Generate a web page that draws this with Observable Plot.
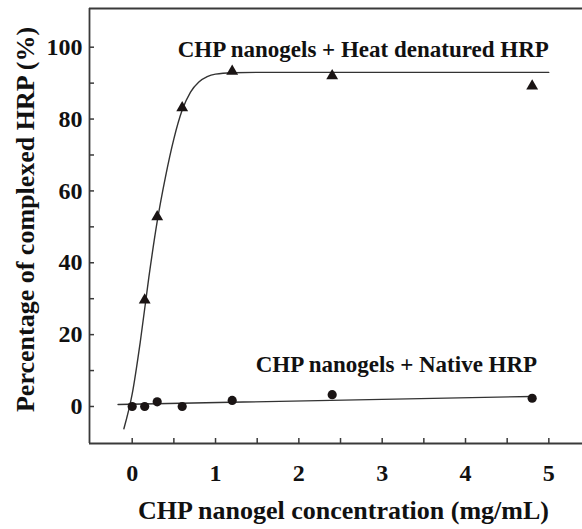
<!DOCTYPE html>
<html>
<head>
<meta charset="utf-8">
<script src="https://cdn.jsdelivr.net/npm/d3@7"></script>
<script src="https://cdn.jsdelivr.net/npm/@observablehq/plot@0.6"></script>
<style>
  html, body { margin: 0; padding: 0; background: #fff; }
  #chart svg { display: block; }
</style>
</head>
<body>
<div id="chart"></div>
<script>
// Heat denatured HRP (triangles)
const heatConc = [0.15, 0.3, 0.6, 1.2, 2.4, 4.8];
const heatPct  = [29.6, 52.8, 83.1, 93.3, 92.0, 89.2];
// Native HRP (circles)
const nativeConc = [0, 0.15, 0.3, 0.6, 1.2, 2.4, 4.8];
const nativePct  = [0, 0, 1.3, 0, 1.7, 3.3, 2.3];
// Fitted curves
const heatFitConc = [-0.10, 0, 0.1, 0.2, 0.3, 0.4, 0.5, 0.6, 0.7, 0.8, 0.9, 1.0, 1.2, 1.5, 5.0];
const heatFitPct  = [-6.2, 3.5, 18.5, 36, 51.5, 64, 74.5, 82.5, 87.5, 90.3, 91.8, 92.5, 92.9, 93, 93];
const nativeFitConc = [-0.17, 4.8];
const nativeFitPct  = [0.55, 2.8];
// Labels
const seriesLabels = ["CHP nanogels + Heat denatured HRP", "CHP nanogels + Native HRP"];
const labelConc = [5.0, 4.86];
const labelPct  = [97.2, 9.5];
const xTitle = "CHP nanogel concentration (mg/mL)";
const yTitle = "Percentage of complexed HRP (%)";
const xTicks = [0, 0.5, 1, 1.5, 2, 2.5, 3, 3.5, 4, 4.5, 5];
const yTicks = [0, 10, 20, 30, 40, 50, 60, 70, 80, 90, 100];
const xDomain = [-0.5125, 5.404];
const yDomain = [-10.3, 110.77];

const heat = heatConc.map((x, i) => ({x, y: heatPct[i]}));
const native = nativeConc.map((x, i) => ({x, y: nativePct[i]}));
const heatFit = heatFitConc.map((x, i) => ({x, y: heatFitPct[i]}));
const nativeFit = nativeFitConc.map((x, i) => ({x, y: nativeFitPct[i]}));
const labels = seriesLabels.map((t, i) => ({t, x: labelConc[i], y: labelPct[i]}));

const ink = "#111";
const axisInk = "#3a3a3a";

const chart = Plot.plot({
  width: 582,
  height: 529,
  marginLeft: 89,
  marginRight: 0,
  marginTop: 8,
  marginBottom: 86,
  style: {
    fontFamily: "'Liberation Serif', 'Times New Roman', serif",
    fontWeight: "bold",
    color: ink,
    background: "#fff",
    overflow: "visible"
  },
  x: {domain: xDomain},
  y: {domain: yDomain},
  marks: [
    Plot.axisX({
      ticks: xTicks, tickSize: -5, tickPadding: 25, fontSize: 24,
      tickFormat: d => Number.isInteger(d) ? String(d) : "",
      stroke: axisInk, strokeWidth: 1.5, label: null
    }),
    Plot.axisY({
      ticks: yTicks, tickSize: -5, tickPadding: 12, fontSize: 24,
      tickFormat: d => d % 20 === 0 ? String(d) : "",
      stroke: axisInk, strokeWidth: 1.5, label: null
    }),
    Plot.ruleY([yDomain[0], yDomain[1]], {stroke: axisInk, strokeWidth: 1.8}),
    Plot.ruleX([xDomain[0]], {stroke: axisInk, strokeWidth: 1.8}),
    Plot.line(heatFit, {x: "x", y: "y", curve: "monotone-x", stroke: "#333", strokeWidth: 1.4}),
    Plot.line(nativeFit, {x: "x", y: "y", stroke: "#333", strokeWidth: 1.4}),
    Plot.dot(heat, {x: "x", y: "y", symbol: "triangle", r: 4.4, fill: "#1a1414", stroke: "none"}),
    Plot.dot(native, {x: "x", y: "y", symbol: "circle", r: 4.6, fill: "#1a1414", stroke: "none"}),
    Plot.text(labels, {x: "x", y: "y", text: "t", textAnchor: "end", lineAnchor: "bottom", fontSize: 23, fill: ink}),
    Plot.text([xTitle], {text: d => d, frameAnchor: "bottom", textAnchor: "middle", dx: 7.5, dy: 75, lineAnchor: "bottom", fontSize: 26, fill: ink}),
    Plot.text([yTitle], {text: d => d, frameAnchor: "left", textAnchor: "middle", rotate: -90, dx: -55.7, dy: -6.5, lineAnchor: "bottom", fontSize: 26, fill: ink})
  ]
});
document.getElementById("chart").appendChild(chart);
</script>
</body>
</html>
